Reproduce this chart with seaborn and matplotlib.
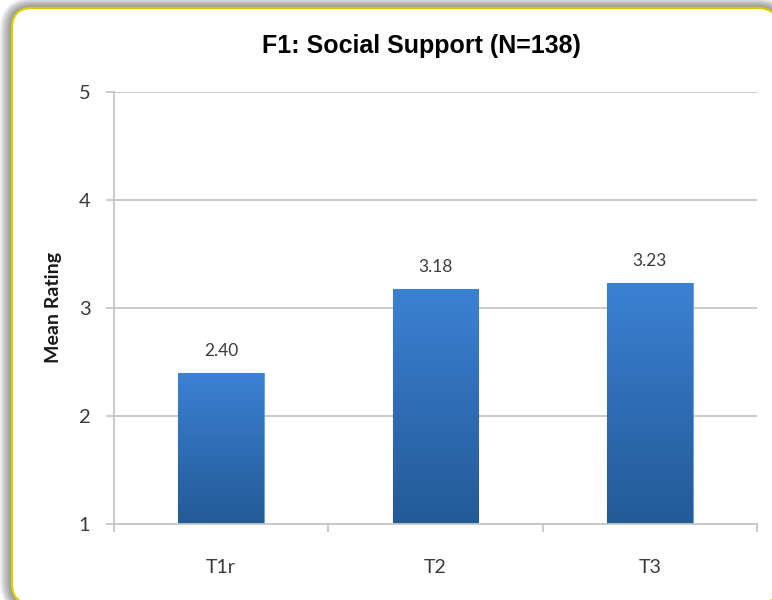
import numpy as np
import pandas as pd
import matplotlib
matplotlib.use("Agg")
import matplotlib.pyplot as plt
import seaborn as sns
from matplotlib.patches import FancyBboxPatch
from matplotlib.colors import LinearSegmentedColormap
from matplotlib.ticker import FixedLocator

# Chart data
periods = ["T1r", "T2", "T3"]
mean_rating = [2.40, 3.18, 3.23]
y_ticks = [1, 2, 3, 4, 5]
title = "F1: Social Support (N=138)"
y_label = "Mean Rating"

sns.set_style("white")
plt.rcParams["font.family"] = ["Lato", "DejaVu Sans"]

W, H = 772, 600
fig = plt.figure(figsize=(W / 100, H / 100), dpi=100)
fig.patch.set_facecolor("white")

# Background panel in pixel coordinates: soft shadow + rounded frame
bg = fig.add_axes([0, 0, 1, 1], zorder=0)
bg.set_xlim(0, W)
bg.set_ylim(H, 0)
bg.axis("off")
bx0, by0, bx1, by1 = 12, 8, 778, 604
for k in range(14, 0, -1):
    bg.add_patch(FancyBboxPatch(
        (bx0 - k * 0.9, by0 - k * 0.75), (bx1 - bx0) + k * 1.8, (by1 - by0) + k * 1.5,
        boxstyle=f"round,pad=0,rounding_size={20 + k}",
        facecolor="black", edgecolor="none", alpha=0.035))
bg.add_patch(FancyBboxPatch(
    (bx0, by0), bx1 - bx0, by1 - by0,
    boxstyle="round,pad=0,rounding_size=20",
    facecolor="white", edgecolor="#d9cf00", linewidth=1.6))

# Plot area
ax = fig.add_axes([114 / W, 1 - 524 / H, (757 - 114) / W, (524 - 92) / H], zorder=2)
ax.patch.set_visible(False)

df = pd.DataFrame({"period": periods, "mean": mean_rating})
sns.barplot(data=df, x="period", y="mean", width=0.4, color="#2c68ad",
            saturation=1, ax=ax, errorbar=None)

ax.set_xlim(-0.5, 2.5)
ax.set_ylim(1, 5)

# Vertical gradient fill for each bar
grad = LinearSegmentedColormap.from_list("bar_grad", ["#245a97", "#2f6db5", "#3b82d3"])
gimg = np.linspace(0, 1, 256).reshape(-1, 1)
for p in ax.patches:
    x0, w, top = p.get_x(), p.get_width(), p.get_height()
    im = ax.imshow(gimg, cmap=grad, origin="lower", aspect="auto",
                   extent=[x0, x0 + w, 1, top], zorder=p.get_zorder() + 0.1,
                   interpolation="bicubic")
    im.set_clip_path(p)
    p.set_edgecolor("#6fa3dc")
    p.set_linewidth(0.8)
ax.set_xlim(-0.5, 2.5)
ax.set_ylim(1, 5)

# Value labels
ax.bar_label(ax.containers[0], labels=[f"{v:.2f}" for v in mean_rating],
             padding=10, fontsize=12.5, color="#3c3c3c", zorder=5)

# Grid, spines, ticks
grid_c = "#c6c6c6"
ax.yaxis.grid(True, color=grid_c, linewidth=1.3)
ax.set_axisbelow(True)
for s in ["top", "right"]:
    ax.spines[s].set_visible(False)
for s in ["left", "bottom"]:
    ax.spines[s].set_color(grid_c)
    ax.spines[s].set_linewidth(1.3)

ax.set_yticks(y_ticks)
ax.set_yticklabels([str(t) for t in y_ticks])
ax.tick_params(axis="y", length=6, width=1.3, color=grid_c, pad=11,
               labelsize=14.5, labelcolor="#3a3a3a", left=True)
ax.xaxis.set_minor_locator(FixedLocator([-0.5, 0.5, 1.5, 2.5]))
ax.tick_params(axis="x", which="minor", length=6, width=1.3, color=grid_c,
               direction="out", bottom=True)
ax.tick_params(axis="x", which="major", length=0, pad=25,
               labelsize=14, labelcolor="#3a3a3a")
ax.set_xlabel("")
ax.set_ylabel("")

# Title and axis label
fig.text(421 / W, 1 - 46 / H, title, ha="center", va="center",
         fontsize=18, fontweight="bold", color="black",
         family=["Liberation Sans", "DejaVu Sans"], zorder=3)
fig.text(54 / W, 1 - 307 / H, y_label, ha="center", va="center",
         rotation=90, fontsize=14, fontweight="bold", color="#1a1a1a", zorder=3)

fig.savefig("out.png", dpi=100)
